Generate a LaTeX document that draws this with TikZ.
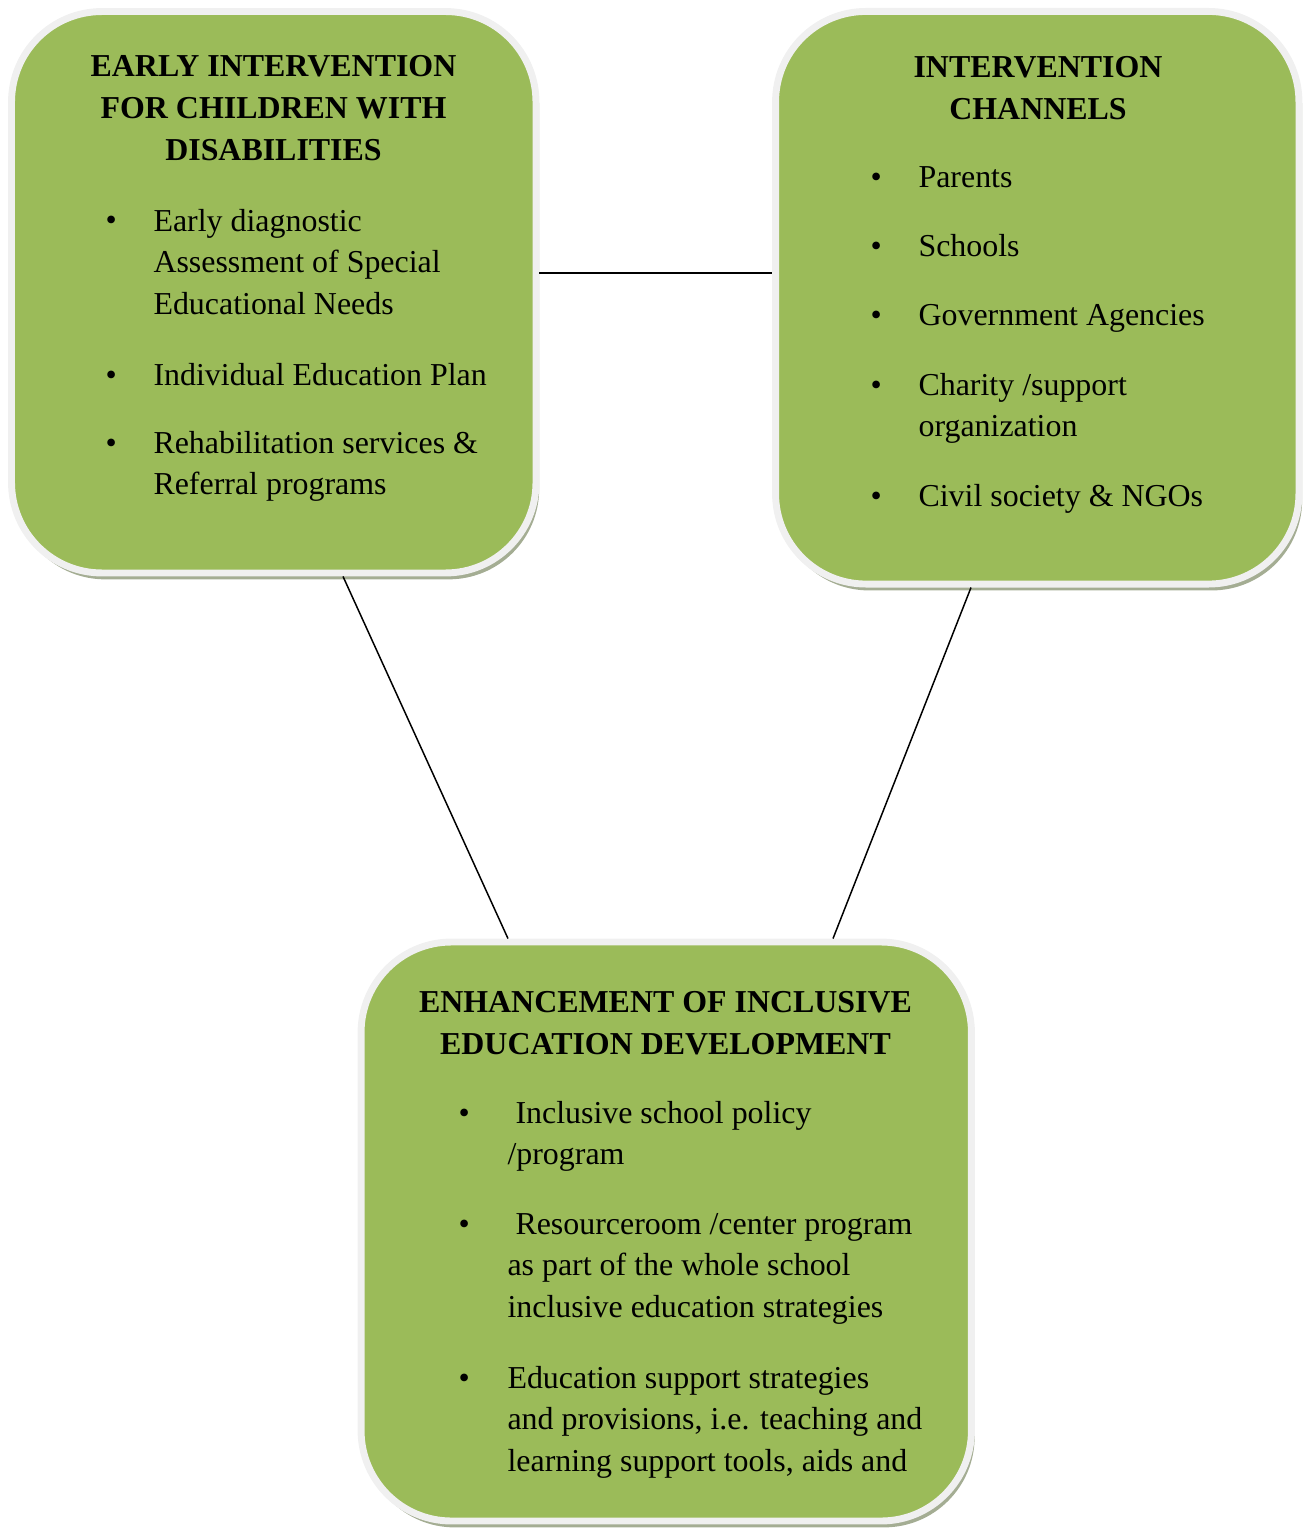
\documentclass[tikz,border=0pt]{standalone}
\usepackage{fontspec}
\setmainfont{Liberation Serif}
\usetikzlibrary{shadows}
\definecolor{boxgreen}{HTML}{9BBB59}
\definecolor{boxrim}{HTML}{F0F0F0}
\definecolor{boxshade}{HTML}{A4AD93}
\tikzset{
  greenbox/.style={rectangle, rounded corners=34pt, fill=boxgreen, draw=boxrim, line width=2.6pt,
    drop shadow={shadow xshift=1.2pt, shadow yshift=-2.4pt, fill=boxshade, opacity=1}},
  boxtitle/.style={font=\fontsize{12}{15.7}\selectfont\bfseries, align=center, anchor=base, inner sep=0pt},
  boxtext/.style={font=\fontsize{12}{15.7}\selectfont, align=left, anchor=base west, inner sep=0pt},
  dot/.style={font=\fontsize{12}{15.7}\selectfont, anchor=base west, inner sep=0pt},
  link/.style={line width=0.56pt, black},
}
\begin{document}
\begin{tikzpicture}[x=0.376pt, y=-0.376pt]
   \useasboundingbox (0,0) rectangle (1304,1530);
   % the three boxes
   \node[greenbox, minimum width=197.2pt, minimum height=211.1pt] (early) at (273.75,292.25) {};
   \node[greenbox, minimum width=196.8pt, minimum height=215.3pt] (channels) at (1037.25,297.75) {};
   \node[greenbox, minimum width=229.5pt, minimum height=217.7pt] (enhance) at (666.25,1231.5) {};
   % titles (placed at the baseline of their last line)
   \node[boxtitle] (early title) at (273.5,160.5) {EARLY INTERVENTION\\FOR CHILDREN WITH\\DISABILITIES};
   \node[boxtitle] (channels title) at (1038,119.3) {INTERVENTION\\CHANNELS};
   \node[boxtitle] (enhance title) at (665.5,1054.3) {ENHANCEMENT OF INCLUSIVE\\EDUCATION DEVELOPMENT};
   % bullet lists: first baseline / number of lines / text
   \foreach \y/\n/\txt [count=\i] in {231/3/{Early diagnostic\\Assessment of Special\\Educational Needs},
         385/1/{Individual Education Plan}, 453/2/{Rehabilitation services \&\\Referral programs}} {
      \node[dot] (early dot \i) at (105,\y) {\textbullet};
      \node[boxtext] (early item \i) at (153,{\y+41.8*(\n-1)}) {\txt};
   }
   \foreach \y/\n/\txt [count=\i] in {188/1/Parents, 257/1/Schools, 326/1/{Government Agencies},
         395/2/{Charity /support\\organization}, 506/1/{Civil society \& NGOs}} {
      \node[dot] (channels dot \i) at (870,\y) {\textbullet};
      \node[boxtext] (channels item \i) at (918,{\y+41.8*(\n-1)}) {\txt};
   }
   \foreach \y/\n/\txt [count=\i] in {1123/2/{\ Inclusive school policy\\/program},
         1234/3/{\ Resourceroom /center program\\as part of the whole school\\inclusive education strategies},
         1388/3/{Education support strategies\\and provisions, i.e. teaching and\\learning support tools, aids and}} {
      \node[dot] (enhance dot \i) at (458,\y) {\textbullet};
      \node[boxtext] (enhance item \i) at (507,{\y+41.8*(\n-1)}) {\txt};
   }
   % connectors
   \draw[link] (early.east |- 0,273) -- (channels.west |- 0,273);
   \draw[link] (early.south -| 343,0) -- (enhance.north -| 508,0);
   \draw[link] (channels.south -| 971,0) -- (enhance.north -| 833,0);
\end{tikzpicture}
\end{document}
